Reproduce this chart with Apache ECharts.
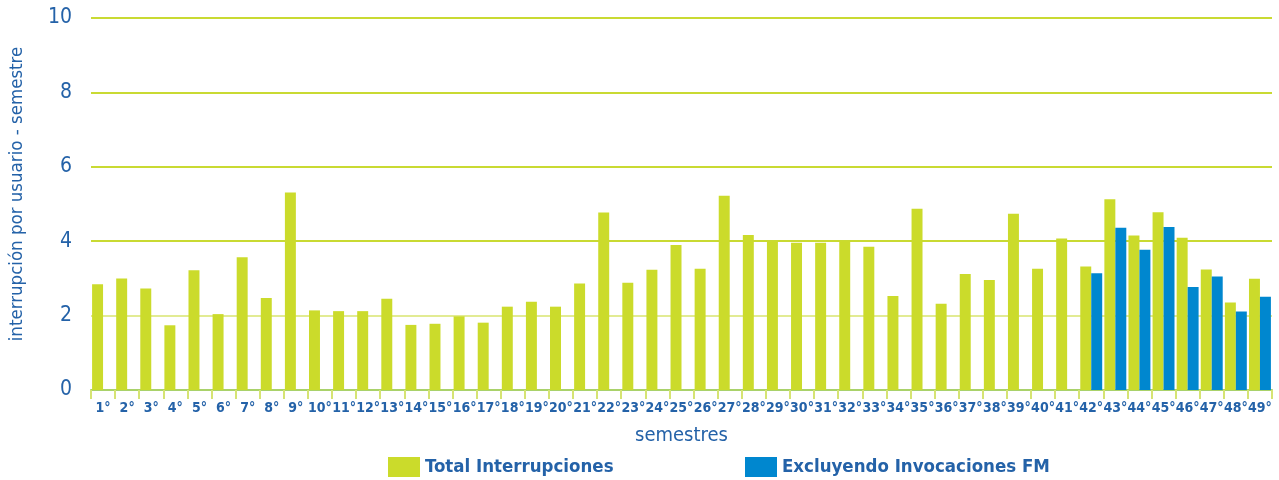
<!DOCTYPE html>
<html>
<head>
<meta charset="utf-8">
<script src="https://cdn.jsdelivr.net/npm/echarts@6/dist/echarts.min.js"></script>
<style>
  html, body { margin: 0; padding: 0; background: #fff; }
  #chart { width: 1279px; height: 480px; }
</style>
</head>
<body>
<div id="chart"></div>
<script>
// semestres 1°..49°
var semestres = [];
for (var i = 1; i <= 49; i++) semestres.push(i + '°');

// Total Interrupciones
var totalInterrupciones = [
  2.84, 3.00, 2.73, 1.74, 3.22, 2.04, 3.57, 2.47, 5.31, 2.14,
  2.12, 2.12, 2.45, 1.75, 1.78, 1.98, 1.81, 2.24, 2.37, 2.24,
  2.86, 4.77, 2.88, 3.23, 3.90, 3.26, 5.22, 4.17, 4.00, 3.96,
  3.96, 4.00, 3.85, 2.53, 4.87, 2.32, 3.12, 2.96, 4.74, 3.26,
  4.07, 3.32, 5.13, 4.15, 4.78, 4.09, 3.24, 2.35, 2.99
];

// Excluyendo Invocaciones FM (solo desde el 42°)
var excluyendoFM = [
  null, null, null, null, null, null, null, null, null, null,
  null, null, null, null, null, null, null, null, null, null,
  null, null, null, null, null, null, null, null, null, null,
  null, null, null, null, null, null, null, null, null, null,
  null, 3.14, 4.36, 3.77, 4.38, 2.77, 3.05, 2.11, 2.51
];

var yTicks = [0, 2, 4, 6, 8, 10];

var FONT = "'Liberation Sans Narrow', 'DejaVu Sans Condensed', 'Roboto', sans-serif";
var AZUL_TXT = '#2462a8';
var VERDE = '#cbdb2b';
var AZUL = '#0087cf';

var chart = echarts.init(document.getElementById('chart'));

var option = {
  animation: false,
  textStyle: { fontFamily: FONT },
  grid: {   //área del gráfico
    left: 90,
    right: 7,
    top: 18,
    bottom: 90,
    containLabel: false
  },
  legend: [
    {
      data: ['Total Interrupciones'],
      left: 383,
      top: 452,
      itemWidth: 32,
      itemHeight: 20,
      icon: 'rect',
      textStyle: { fontFamily: FONT, fontSize: 18.5, fontWeight: 'bold', color: AZUL_TXT }
    },
    {
      data: ['Excluyendo Invocaciones FM'],
      left: 740,
      top: 452,
      itemWidth: 32,
      itemHeight: 20,
      icon: 'rect',
      textStyle: { fontFamily: FONT, fontSize: 18.5, fontWeight: 'bold', color: AZUL_TXT }
    }
  ],
  xAxis: {
    type: 'category',
    data: semestres,
    name: 'semestres',
    nameLocation: 'middle',
    nameGap: 36,
    nameTextStyle: { fontFamily: FONT, fontSize: 20, color: AZUL_TXT },
    axisLine: { show: true, lineStyle: { color: '#a9d26a', width: 2 } },
    axisTick: { show: true, interval: 0, length: 9, lineStyle: { color: '#d6e474', width: 2 } },
    axisLabel: {
      interval: 0,
      margin: 11,
      fontFamily: FONT,
      fontSize: 14,
      fontWeight: 'bold',
      color: AZUL_TXT
    }
  },
  yAxis: {
    type: 'value',
    min: yTicks[0],
    max: yTicks[yTicks.length - 1],
    interval: 2,
    name: 'interrupción por usuario - semestre',
    nameLocation: 'middle',
    nameGap: 64,
    nameTextStyle: { fontFamily: FONT, fontSize: 18.5, color: AZUL_TXT, padding: [0, 0, 0, 20] },
    axisLine: { show: false },
    axisTick: { show: false },
    axisLabel: { margin: 19, fontFamily: FONT, fontSize: 21, color: AZUL_TXT },
    splitLine: {
      show: true,
      lineStyle: {
        width: 2,
        color: ['#a9d26a', '#e2eb93', '#c9da33', '#c9da33', '#c9da33', '#c9da33']
      }
    }
  },
  series: [
    {
      name: 'Total Interrupciones',
      type: 'bar',
      data: totalInterrupciones,
      barGap: 0,
      barCategoryGap: '9%',
      itemStyle: { color: VERDE }
    },
    {
      name: 'Excluyendo Invocaciones FM',
      type: 'bar',
      data: excluyendoFM,
      barGap: 0,
      barCategoryGap: '9%',
      itemStyle: { color: AZUL }
    }
  ]
};

chart.setOption(option);
</script>
</body>
</html>
